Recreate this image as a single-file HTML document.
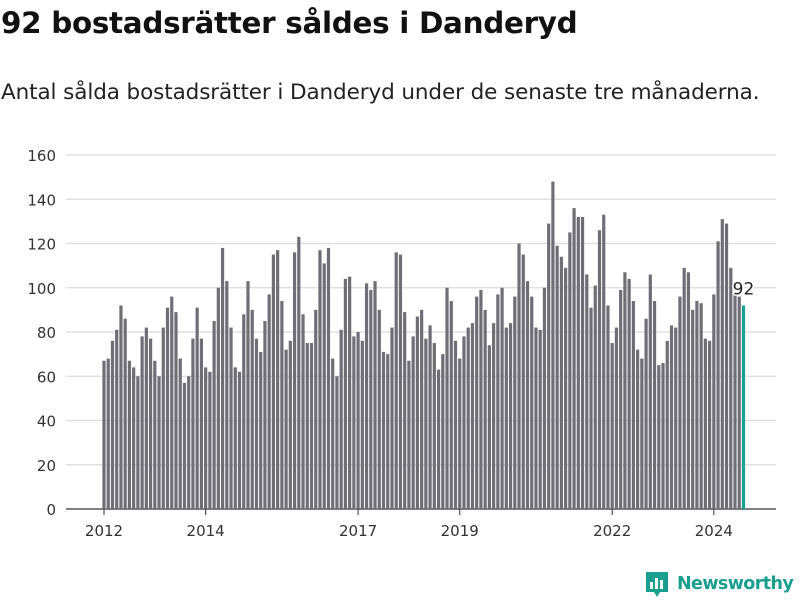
<!DOCTYPE html>
<html><head><meta charset="utf-8"><style>
body{margin:0;width:800px;height:600px;background:#fff;font-family:"DejaVu Sans",sans-serif;overflow:hidden;position:relative}
#title{position:absolute;left:1px;top:6px;font-size:29.4px;font-weight:bold;color:#111;margin:0;letter-spacing:-0.3px}
#sub{position:absolute;left:1px;top:80px;font-size:21.5px;color:#222;margin:0;letter-spacing:-0.1px}
svg{position:absolute;left:0;top:0}
</style></head><body>
<h1 id="title">92 bostadsrätter såldes i Danderyd</h1>
<p id="sub">Antal sålda bostadsrätter i Danderyd under de senaste tre månaderna.</p>
<svg id="chart" width="800" height="600"></svg>
<script>
const values = [
67,68,76,81,92,86,67,64,60,78,82,77,
67,60,82,91,96,89,68,57,60,77,91,77,
64,62,85,100,118,103,82,64,62,88,103,90,
77,71,85,97,115,117,94,72,76,116,123,88,
75,75,90,117,111,118,68,60,81,104,105,78,
80,76,102,99,103,90,71,70,82,116,115,89,
67,78,87,90,77,83,75,63,70,100,94,76,
68,78,82,84,96,99,90,74,84,97,100,82,
84,96,120,115,103,96,82,81,100,129,148,119,
114,109,125,136,132,132,106,91,101,126,133,92,
75,82,99,107,104,94,72,68,86,106,94,65,
66,76,83,82,96,109,107,90,94,93,77,76,
97,121,131,129,109,98,96,92];
const yTicks = [0,20,40,60,80,100,120,140,160];
const xTickLabels = ["2012","2014","2017","2019","2022","2024"];
const xTickYears = [2012,2014,2017,2019,2022,2024];
const NS="http://www.w3.org/2000/svg";
const svg=document.getElementById('chart');
const y=v=>509-v*(354/160);
const x=i=>104+i*4.235;
const xYear=yr=>x((yr-2012)*12);
const F='DejaVu Sans, sans-serif';
function mk(t,a,txt){const e=document.createElementNS(NS,t);for(const k in a)e.setAttribute(k,a[k]);if(txt!=null)e.textContent=txt;svg.appendChild(e);return e;}
yTicks.forEach(v=>{
 const g=mk('line',{x1:66,x2:776,y1:y(v),y2:y(v),stroke:v===0?'#333':'#dcdcdc','stroke-width':1.3});
 
 
 const t=mk('text',{x:56,y:y(v)+6,'text-anchor':'end','font-size':15,fill:'#333','font-family':F},v);
 
 
});
values.forEach((v,i)=>{
 const last=i===values.length-1;
 const r=mk('rect',{x:x(i)-1.6,y:y(v),width:3.2,height:509-y(v),fill:last?'#1a9e8f':'#6f6e76'});
 
 
});
xTickYears.forEach((yr,k)=>{
 const xx=xYear(yr);
 const l=mk('line',{x1:xx,x2:xx,y1:509,y2:515,stroke:'#333','stroke-width':1});
 
 
 const t=mk('text',{x:xx,y:536,'text-anchor':'middle','font-size':15,fill:'#333','font-family':F},xTickLabels[k]);
 
 
});
const li=values.length-1;
const lab=mk('text',{x:x(li),y:y(values[li])-11,'text-anchor':'middle','font-size':17,fill:'#222',stroke:'#fff','stroke-width':3,'paint-order':'stroke','font-family':F},values[li]);


</script>
<svg width="800" height="600" style="pointer-events:none">
<path d="M646 572 h22 v20 h-8 l-3 5 l-3 -5 h-8 z" fill="#1a9e8f"/>
<rect x="650" y="582" width="3" height="7" fill="#fff"/><rect x="655" y="578" width="3" height="11" fill="#fff"/><rect x="660" y="580" width="3" height="9" fill="#fff"/>
<text x="677" y="589" font-size="17.5" font-weight="bold" fill="#1a9e8f" font-family="DejaVu Sans, sans-serif" letter-spacing="-0.6">Newsworthy</text>
</svg>
</body></html>
